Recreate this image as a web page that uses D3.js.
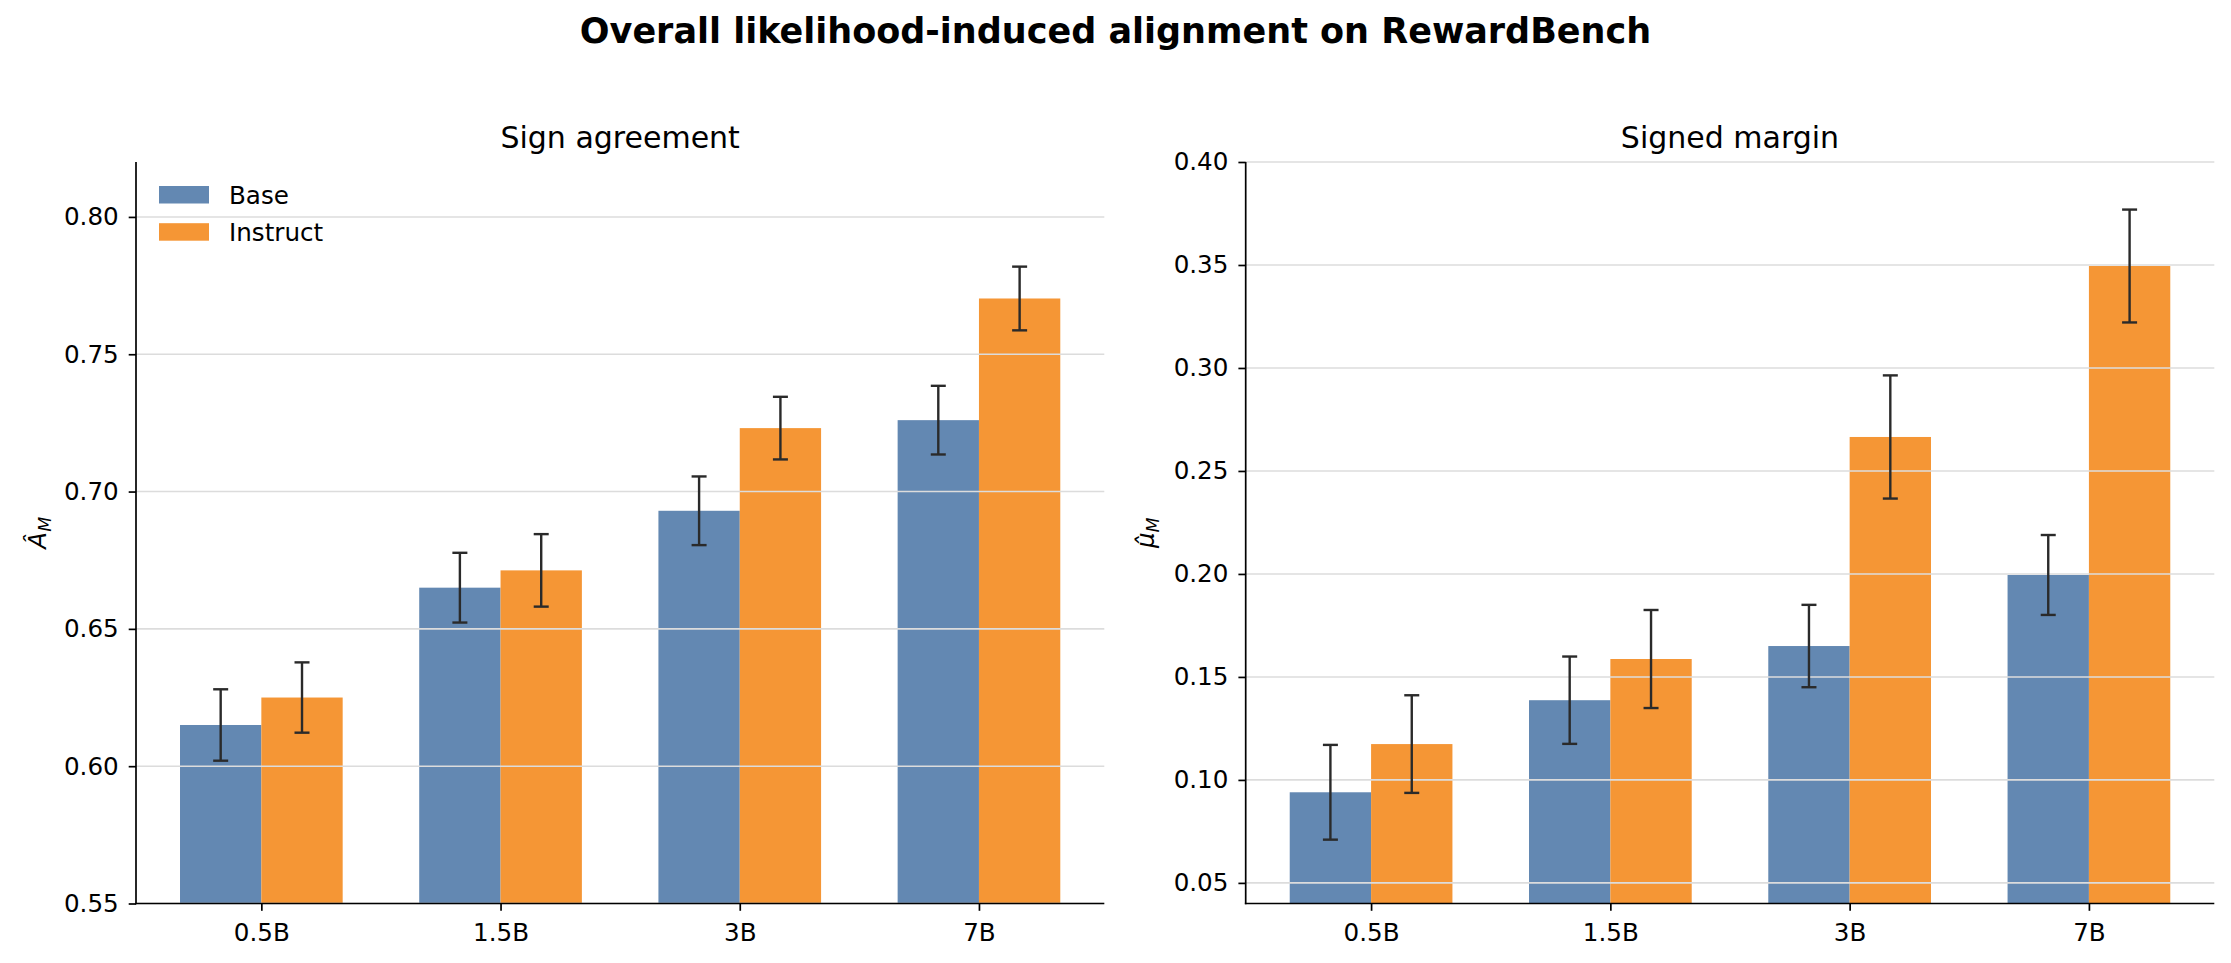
<!DOCTYPE html>
<html>
<head>
<meta charset="utf-8">
<script src="https://cdn.jsdelivr.net/npm/d3@7"></script>
<style>
    body { margin: 0; background: #fff; }
    svg { display: block; font-family: 'DejaVu Sans', sans-serif; }
</style>
</head>
<body>
<div id="chart"></div>
<script>

var sizes = ['0.5B', '1.5B', '3B', '7B']
var seriesNames = ['Base', 'Instruct']

// sign agreement (A_M)
var signBase = [0.615, 0.665, 0.693, 0.726]
var signBaseErr = [0.013, 0.0127, 0.0125, 0.0125]
var signInstruct = [0.625, 0.6713, 0.7231, 0.7703]
var signInstructErr = [0.0128, 0.0132, 0.0114, 0.0116]
var signTicks = [0.55, 0.60, 0.65, 0.70, 0.75, 0.80]

// signed margin (mu_M)
var marginBase = [0.094, 0.1387, 0.165, 0.1995]
var marginBaseErr = [0.023, 0.0212, 0.0200, 0.0194]
var marginInstruct = [0.1174, 0.1587, 0.2665, 0.3495]
var marginInstructErr = [0.0237, 0.0238, 0.0299, 0.0274]
var marginTicks = [0.05, 0.10, 0.15, 0.20, 0.25, 0.30, 0.35, 0.40]

var colors = ['#6388b2', '#f59635']
var barWidth = 0.34

var W = 2231, H = 963
var tickFont = '24.6px'

var svg = d3.select('#chart')
    .append('svg')
        .attr('width', W)
        .attr('height', H)

svg.append('text')
    .attr('x', W / 2)
    .attr('y', 43)
    .attr('text-anchor', 'middle')
    .style('font-size', '35px')
    .style('font-weight', 'bold')
    .text('Overall likelihood-induced alignment on RewardBench')

function drawPanel(opts) {
    var x0 = opts.left, x1 = opts.right, yTop = 162, yBot = 903.5

    var x = d3.scaleLinear().domain([-0.524, 3.524]).range([x0, x1])
    var y = d3.scaleLinear().domain(opts.yDomain).range([yBot, yTop])

    var g = svg.append('g')

    // bars
    var series = [opts.base, opts.instruct]
    var errs = [opts.baseErr, opts.instructErr]
    series.forEach(function(vals, s) {
        g.selectAll('rect.s' + s)
            .data(vals)
            .enter()
            .append('rect')
            .attr('x', function(d, i) { return x(i - barWidth + s * barWidth) })
            .attr('width', x(barWidth) - x(0))
            .attr('y', function(d) { return y(d) })
            .attr('height', function(d) { return yBot - y(d) })
            .style('fill', colors[s])
    })

    // horizontal grid above the bars
    g.selectAll('line.grid')
        .data(opts.ticks)
        .enter()
        .append('line')
        .attr('x1', x0).attr('x2', x1)
        .attr('y1', function(d) { return y(d) })
        .attr('y2', function(d) { return y(d) })
        .style('stroke', '#dcdcdc')
        .style('stroke-width', 1.6)

    // error bars
    series.forEach(function(vals, s) {
        vals.forEach(function(v, i) {
            var cx = x(i - barWidth / 2 + s * barWidth)
            var lo = y(v - errs[s][i]), hi = y(v + errs[s][i])
            var eb = g.append('g').style('stroke', '#2a2a2a').style('stroke-width', 2.4)
            eb.append('line').attr('x1', cx).attr('x2', cx).attr('y1', lo).attr('y2', hi)
            eb.append('line').attr('x1', cx - 7.5).attr('x2', cx + 7.5).attr('y1', lo).attr('y2', lo)
            eb.append('line').attr('x1', cx - 7.5).attr('x2', cx + 7.5).attr('y1', hi).attr('y2', hi)
        })
    })

    // y axis
    var yAxis = d3.axisLeft(y)
        .tickValues(opts.ticks)
        .tickSize(7.3)
        .tickPadding(10)
        .tickFormat(d3.format('.2f'))
    var ya = svg.append('g')
        .attr('transform', 'translate(' + x0 + ',0)')
        .call(yAxis)
        .attr('font-family', null)
        .attr('font-size', null)
    ya.select('.domain').remove()
    ya.selectAll('line').style('stroke', '#000').style('stroke-width', 1.7)
    ya.selectAll('text').style('font-size', tickFont).style('fill', '#000')

    // x axis
    var xAxis = d3.axisBottom(x)
        .tickValues([0, 1, 2, 3])
        .tickSize(7.3)
        .tickFormat(function(d) { return sizes[d] })
    var xa = svg.append('g')
        .attr('transform', 'translate(0,' + yBot + ')')
        .call(xAxis)
        .attr('font-family', null)
        .attr('font-size', null)
    xa.select('.domain').remove()
    xa.selectAll('line').style('stroke', '#000').style('stroke-width', 1.7)
    xa.selectAll('text')
        .attr('y', 37.5)
        .attr('dy', null)
        .style('font-size', tickFont).style('fill', '#000')

    // left and bottom spines
    svg.append('line')
        .attr('x1', x0).attr('x2', x0).attr('y1', yTop).attr('y2', yBot + 0.85)
        .style('stroke', '#000').style('stroke-width', 1.7)
    svg.append('line')
        .attr('x1', x0 - 0.85).attr('x2', x1).attr('y1', yBot).attr('y2', yBot)
        .style('stroke', '#000').style('stroke-width', 1.7)

    // panel title
    svg.append('text')
        .attr('x', (x0 + x1) / 2)
        .attr('y', 148)
        .attr('text-anchor', 'middle')
        .style('font-size', '30px')
        .text(opts.title)

    // y label (mathtext style, rotated)
    var yl = svg.append('text')
        .attr('transform', 'translate(' + opts.ylabelX + ',' + (yTop + yBot) / 2 + ') rotate(-90)')
        .attr('text-anchor', 'middle')
        .style('font-size', '24.6px')
        .style('font-style', 'italic')
    yl.append('tspan').text(opts.ylabelMain)
    yl.append('tspan')
        .attr('dy', 5)
        .style('font-size', '17.4px')
        .text('M')

    return {x: x, y: y}
}

drawPanel({
    left: 136, right: 1104.3,
    yDomain: [0.55, 0.82],
    ticks: signTicks,
    base: signBase, baseErr: signBaseErr,
    instruct: signInstruct, instructErr: signInstructErr,
    title: 'Sign agreement',
    ylabelX: 46, ylabelMain: '\u00C2'
})

drawPanel({
    left: 1245.7, right: 2214.3,
    yDomain: [0.04, 0.40],
    ticks: marginTicks,
    base: marginBase, baseErr: marginBaseErr,
    instruct: marginInstruct, instructErr: marginInstructErr,
    title: 'Signed margin',
    ylabelX: 1154, ylabelMain: '\u03BC\u0302'
})

// legend, upper left of the first panel, no frame
var legend = svg.append('g')
seriesNames.forEach(function(name, s) {
    var ly = 186 + s * 37.2
    legend.append('rect')
        .attr('x', 159).attr('y', ly)
        .attr('width', 50).attr('height', 17.5)
        .style('fill', colors[s])
    legend.append('text')
        .attr('x', 229).attr('y', ly + 18)
        .style('font-size', '24.6px')
        .text(name)
})

</script>
</body>
</html>
